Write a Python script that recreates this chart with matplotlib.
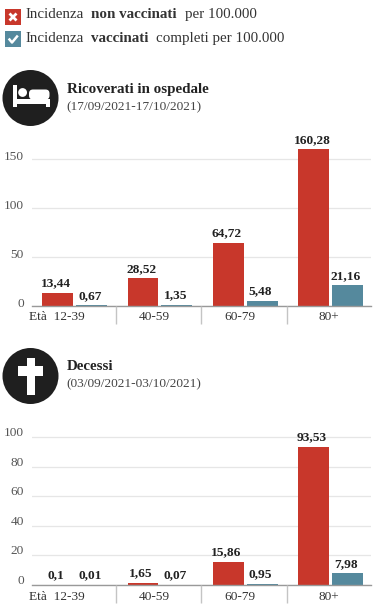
import matplotlib
matplotlib.use("Agg")
import matplotlib.pyplot as plt
from matplotlib.patches import Circle, Rectangle, FancyBboxPatch
from matplotlib.transforms import ScaledTranslation

plt.rcParams['font.family'] = ['Liberation Serif', 'DejaVu Serif']

groups = ['Età  12-39', '40-59', '60-79', '80+']
ric_non = [13.44, 28.52, 64.72, 160.28]
ric_vac = [0.67, 1.35, 5.48, 21.16]
dec_non = [0.1, 1.65, 15.86, 93.53]
dec_vac = [0.01, 0.07, 0.95, 7.98]
ric_ticks = [0, 50, 100, 150]
dec_ticks = [0, 20, 40, 60, 80, 100]

RED = '#c8372b'
TEAL = '#55899d'
DARK = '#1f1f1f'
TXT = '#333333'
W, H = 380, 615
GROUP_W = 85.4

fig = plt.figure(figsize=(W / 100, H / 100), dpi=100, facecolor='white')

# overlay in pixel coords for legend, icons and titles
ov = fig.add_axes([0, 0, 1, 1], zorder=5)
ov.set_xlim(0, W)
ov.set_ylim(H, 0)
ov.axis('off')


def fmt(v):
    return str(v).replace('.', ',')


def bars(y0, px_per_unit, top, non, vac, ticks, tick_up):
    # y0 = pixel of the baseline, top = pixel of the top of the axes
    ax = fig.add_axes([32 / W, (H - y0) / H, 339 / W, (y0 - top) / H])
    ax.set_xlim(1 / GROUP_W, 340 / GROUP_W)
    ax.set_ylim(0, (y0 - top) / px_per_unit)
    ax.patch.set_alpha(0)
    for s in ['top', 'right', 'left']:
        ax.spines[s].set_visible(False)
    ax.spines['bottom'].set_color('#999999')
    ax.spines['bottom'].set_linewidth(1)
    ax.set_axisbelow(True)
    ax.set_yticks(ticks)
    ax.set_xticks([])
    ax.yaxis.grid(True, color='#e6e6e6', lw=0.9)
    ax.tick_params(axis='y', length=0, pad=6, labelsize=9.6, labelcolor='#555555')
    # tick labels sit a little above their gridlines
    shift = ScaledTranslation(0, tick_up / 100, fig.dpi_scale_trans)
    for lab in ax.get_yticklabels():
        lab.set_transform(lab.get_transform() + shift)
    for i in range(len(groups)):
        r = ax.bar(i + 0.31, non[i], 0.36, color=RED)[0]
        t = ax.bar(i + 0.708, vac[i], 0.36, color=TEAL)[0]
        for b, v in ((r, non[i]), (t, vac[i])):
            ax.annotate(fmt(v), (b.get_x() + b.get_width() / 2 - 0.02, v), xytext=(0, 2.4),
                        textcoords='offset points', ha='center', va='bottom',
                        fontsize=9.6, fontweight='bold', color='#222222')
        label_x = 31 + GROUP_W * i + (26 if i == 0 else 38 if i < 3 else 41.5)
        ov.text(label_x, y0 + 11.5, groups[i], ha='center', va='center', fontsize=9.6, color=TXT)
        if i > 0:
            sx = 31 + GROUP_W * i - 0.4
            ov.plot([sx, sx], [y0, y0 + 18], color='#c4c4c4', lw=1, solid_capstyle='butt')
    return ax


bars(306, 0.978, 140, ric_non, ric_vac, ric_ticks, 3.6)
bars(585, 1.477, 425, dec_non, dec_vac, dec_ticks, 5.7)

# legend
ov.add_patch(Rectangle((5, 9), 16, 16, color=RED, lw=0))
ov.plot([9.5, 16.5], [13.5, 20.5], color='white', lw=2, solid_capstyle='butt')
ov.plot([9.5, 16.5], [20.5, 13.5], color='white', lw=2, solid_capstyle='butt')
ov.add_patch(Rectangle((5, 31), 16, 16, color=TEAL, lw=0))
ov.plot([9.5, 12, 17], [39.5, 42.5, 36.5], color='white', lw=1.8)

legend_font = dict(fontsize=10.85, va='center', color=TXT)
ov.text(26, 14.5, 'Incidenza', **legend_font)
ov.text(91, 14.5, 'non vaccinati', fontweight='bold', **legend_font)
ov.text(185, 14.5, 'per 100.000', **legend_font)
ov.text(26, 38.5, 'Incidenza', **legend_font)
ov.text(91, 38.5, 'vaccinati', fontweight='bold', **legend_font)
ov.text(155.5, 38.5, 'completi per 100.000', **legend_font)

# bed icon
ov.add_patch(Circle((30.5, 98), 28, color=DARK, lw=0))
ov.add_patch(Rectangle((13, 85), 3.8, 22, color='white', lw=0))
ov.add_patch(Rectangle((13, 99), 36.5, 5, color='white', lw=0))
ov.add_patch(Rectangle((45.7, 99), 3.8, 8, color='white', lw=0))
ov.add_patch(FancyBboxPatch((29, 89.5), 20.5, 10, boxstyle='round,pad=0,rounding_size=4', color='white', lw=0))
ov.add_patch(Circle((22.6, 92.5), 4.4, color='white', lw=0))

# cross icon
ov.add_patch(Circle((30.5, 376), 28, color=DARK, lw=0))
ov.add_patch(Rectangle((27, 358), 8, 37, color='white', lw=0))
ov.add_patch(Rectangle((18, 366), 25, 10, color='white', lw=0))

# section titles
ov.text(67, 90, 'Ricoverati in ospedale', fontsize=10.8, fontweight='bold', va='center', color='#222222')
ov.text(66.5, 107, '(17/09/2021-17/10/2021)', fontsize=9.6, va='center', color='#444444')
ov.text(67, 367, 'Decessi', fontsize=10.8, fontweight='bold', va='center', color='#222222')
ov.text(66.5, 384, '(03/09/2021-03/10/2021)', fontsize=9.6, va='center', color='#444444')

fig.savefig('out.png', dpi=100)
